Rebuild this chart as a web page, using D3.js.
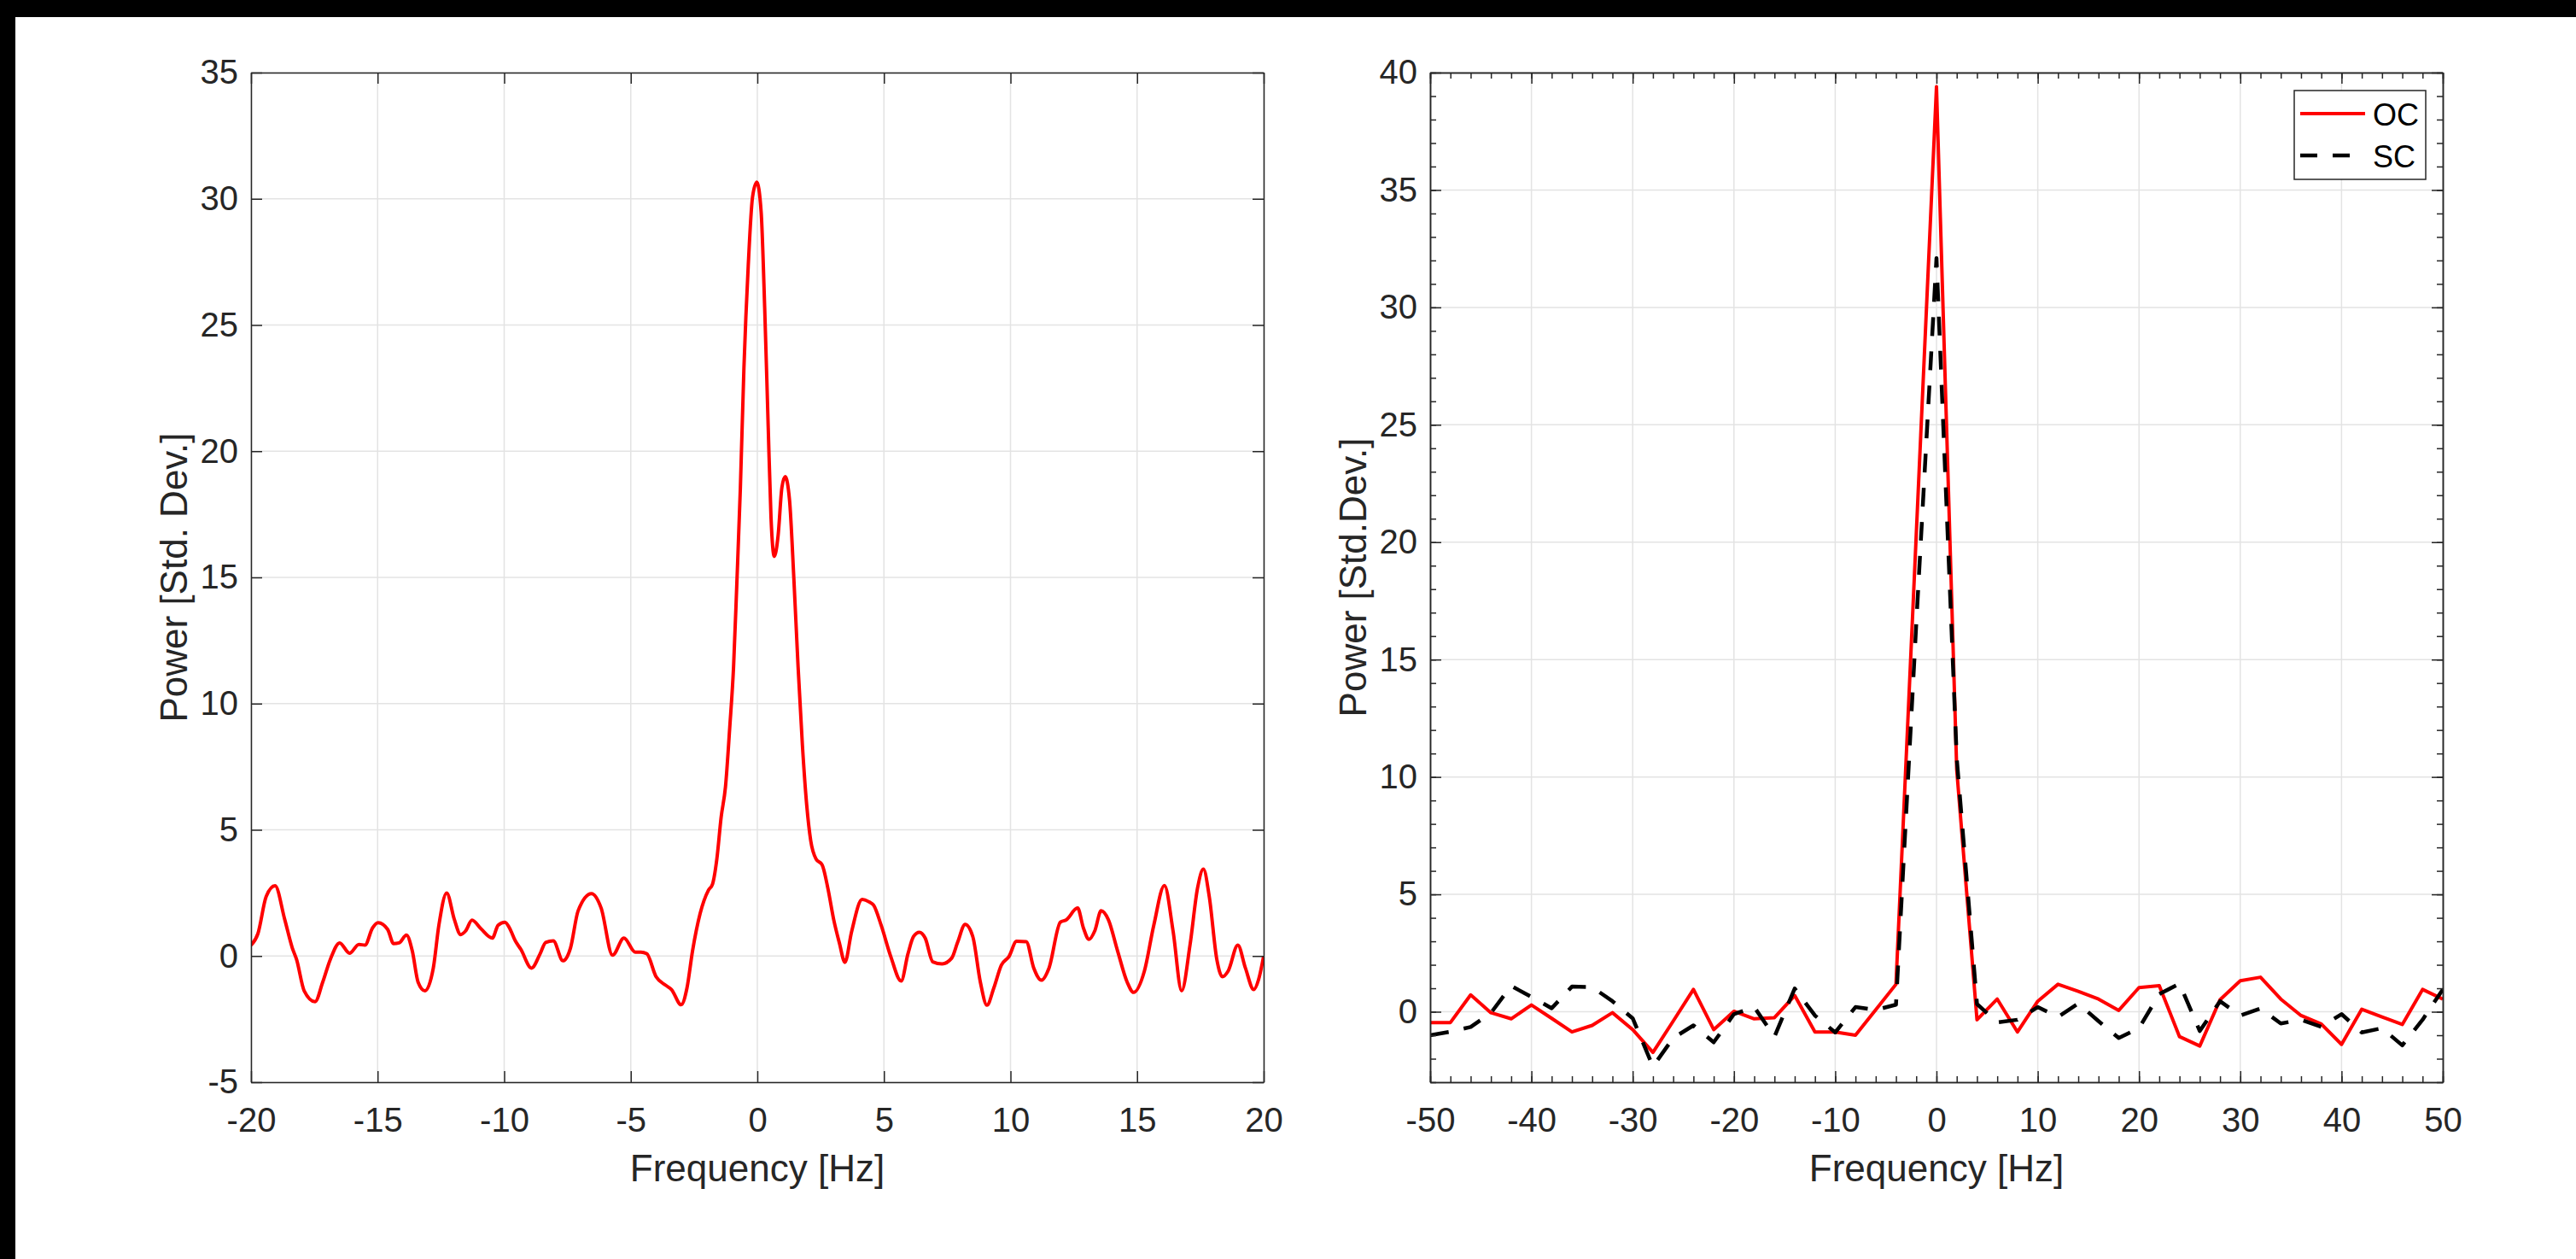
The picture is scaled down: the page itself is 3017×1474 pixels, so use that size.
<!DOCTYPE html>
<html>
<head>
<meta charset="utf-8">
<title>Power spectra</title>
<script src="https://cdn.jsdelivr.net/npm/d3@7"></script>
<style>
body { margin: 0; background: #fff; }
svg { display: block; font-family: "Liberation Sans", Arial, Helvetica, sans-serif; }
</style>
</head>
<body>
<svg id="chart"></svg>
<script>

// ---- data ----
// left panel: one smooth spectrum, -20..20 Hz
var leftFreq = [-20, -19.73, -19.4, -19.05, -18.67, -18.37, -18.2, -17.9, -17.47, -17.17,
    -16.87, -16.5, -16.11, -15.74, -15.5, -15.2, -14.98, -14.6, -14.37, -14.15,
    -13.86, -13.63, -13.4, -13.13, -12.8, -12.58, -12.27, -11.97, -11.72, -11.52,
    -11.27, -10.92, -10.47, -10.24, -9.97, -9.79, -9.56, -9.34, -8.92, -8.58,
    -8.36, -8.06, -7.68, -7.38, -7.08, -6.55, -6.17, -5.72, -5.27, -4.82,
    -4.6, -4.37, -4.0, -3.62, -3.39, -3.01, -2.78, -2.56, -2.26, -1.93,
    -1.77, -1.6, -1.43, -1.26, -1.09, -0.94, -0.81, -0.67, -0.53, -0.36,
    -0.19, -0.02, 0.15, 0.29, 0.43, 0.54, 0.67, 0.82, 0.97, 1.1,
    1.27, 1.44, 1.61, 1.78, 1.95, 2.11, 2.32, 2.56, 2.79, 3.01,
    3.24, 3.46, 3.72, 4.14, 4.44, 4.59, 4.89, 5.27, 5.68, 5.95,
    6.17, 6.4, 6.63, 6.93, 7.3, 7.68, 7.91, 8.21, 8.51, 8.81,
    9.07, 9.34, 9.64, 9.94, 10.24, 10.62, 10.92, 11.22, 11.52, 11.97,
    12.2, 12.65, 12.88, 13.1, 13.33, 13.58, 13.86, 14.23, 14.61, 14.86,
    15.29, 15.66, 16.08, 16.42, 16.76, 17.09, 17.39, 17.62, 17.85, 18.15,
    18.37, 18.6, 18.98, 19.28, 19.61, 19.8, 20];
var leftPower = [0.43, 0.88, 2.36, 2.78, 1.45, 0.32, -0.14, -1.38, -1.81, -1.04,
    -0.14, 0.52, 0.11, 0.46, 0.43, 1.11, 1.32, 1.05, 0.49, 0.52,
    0.83, 0.2, -1.04, -1.38, -0.48, 1.22, 2.5, 1.45, 0.85, 1.0,
    1.42, 1.08, 0.71, 1.22, 1.34, 1.11, 0.6, 0.26, -0.48, 0.09,
    0.54, 0.6, -0.19, 0.32, 1.79, 2.47, 1.9, 0.03, 0.71, 0.15,
    0.15, 0.09, -0.82, -1.16, -1.33, -1.93, -1.27, 0.2, 1.68, 2.61,
    2.85, 3.84, 5.5, 6.69, 9.06, 11.44, 14.76, 18.56, 23.3, 27.34,
    30.07, 30.66, 29.48, 25.68, 20.93, 17.37, 15.83, 16.66, 18.56, 18.99,
    18.08, 15.0, 11.44, 8.35, 5.98, 4.56, 3.84, 3.61, 2.66, 1.47,
    0.52, -0.25, 0.95, 2.24, 2.13, 2.02, 1.22, -0.02, -0.99, 0.09,
    0.77, 0.94, 0.71, -0.23, -0.31, -0.08, 0.54, 1.25, 0.77, -1.04,
    -1.95, -1.27, -0.36, -0.02, 0.58, 0.57, -0.48, -0.96, -0.48, 1.34,
    1.43, 1.9, 1.11, 0.66, 1.0, 1.79, 1.45, 0.2, -1.04, -1.44,
    -0.59, 1.22, 2.79, 1.0, -1.38, 0.43, 2.7, 3.44, 2.36, -0.14,
    -0.82, -0.59, 0.43, -0.48, -1.33, -0.93, 0.0];

// right panel: two spectra sampled every 2 Hz, -50..50 Hz
var rightFreq = d3.range(-50, 51, 2);
var ocPower = [-0.46, -0.46, 0.72, -0.04, -0.3, 0.29, -0.28, -0.86, -0.58, -0.04,
    -0.76, -1.73, -0.4, 0.95, -0.76, 0.02, -0.3, -0.25, 0.69, -0.86,
    -0.86, -1.0, 0.08, 1.17, 20.3, 39.4, 10.3, -0.34, 0.54, -0.86,
    0.45, 1.17, 0.87, 0.54, 0.06, 1.03, 1.11, -1.06, -1.46, 0.51,
    1.32, 1.47, 0.54, -0.16, -0.52, -1.39, 0.11, -0.22, -0.54, 0.95,
    0.54];
var scPower = [-1.0, -0.85, -0.65, -0.05, 1.1, 0.63, 0.15, 1.07, 1.05, 0.45,
    -0.28, -2.33, -1.12, -0.58, -1.3, -0.1, 0.2, -1.06, 0.99, -0.16,
    -0.88, 0.2, 0.08, 0.3, 16.5, 32.1, 10.8, 0.33, -0.45, -0.34,
    0.2, -0.22, 0.35, -0.4, -1.12, -0.7, 0.75, 1.2, -0.82, 0.45,
    -0.16, 0.14, -0.5, -0.34, -0.64, -0.1, -0.88, -0.7, -1.43, -0.34,
    0.95];

var leftXTicks = d3.range(-20, 21, 5);
var leftYTicks = d3.range(-5, 36, 5);
var rightXTicks = d3.range(-50, 51, 10);
var rightYTicks = d3.range(0, 41, 5);
var rightXMinor = d3.range(-50, 51, 2);
var rightYMinor = d3.range(-3, 41, 1);

// ---- page ----
var W = 3017, H = 1474;
var axisColor = "#262626";
var gridColor = "#e3e3e3";

var svg = d3.select("#chart").attr("width", W).attr("height", H);
svg.append("rect").attr("width", W).attr("height", H).attr("fill", "#fff");
// black strips along the top and left edge of the original picture
svg.append("rect").attr("x", 0).attr("y", 0).attr("width", W).attr("height", 20).attr("fill", "#000");
svg.append("rect").attr("x", 0).attr("y", 0).attr("width", 18).attr("height", H).attr("fill", "#000");

function fmt(d) { return String(d); }   // plain hyphen, like MATLAB

function drawPanel(p) {
    var x = d3.scaleLinear().domain(p.xDomain).range([p.left, p.right]);
    var y = d3.scaleLinear().domain(p.yDomain).range([p.bottom, p.top]);
    var g = svg.append("g");
    var id = "clip" + p.name;

    g.append("clipPath").attr("id", id)
        .append("rect")
        .attr("x", p.left).attr("y", p.top)
        .attr("width", p.right - p.left).attr("height", p.bottom - p.top);

    // grid
    g.append("g").selectAll("line").data(p.xTicks).enter().append("line")
        .attr("x1", x).attr("x2", x).attr("y1", p.top).attr("y2", p.bottom)
        .attr("stroke", gridColor).attr("stroke-width", 1.5);
    g.append("g").selectAll("line").data(p.yTicks).enter().append("line")
        .attr("y1", y).attr("y2", y).attr("x1", p.left).attr("x2", p.right)
        .attr("stroke", gridColor).attr("stroke-width", 1.5);

    // data lines
    var plot = g.append("g").attr("clip-path", "url(#" + id + ")");
    p.series.forEach(function (s) {
        var line = d3.line()
            .x(function (d) { return x(d[0]); })
            .y(function (d) { return y(d[1]); })
            .curve(s.curve || d3.curveLinear);
        plot.append("path")
            .datum(d3.zip(s.x, s.y))
            .attr("d", line)
            .attr("fill", "none")
            .attr("stroke", s.color)
            .attr("stroke-width", s.width)
            .attr("stroke-dasharray", s.dash || null)
            .attr("stroke-linejoin", "round");
    });

    // axes (ticks pointing in, on all four sides)
    var bottom = d3.axisBottom(x).tickValues(p.xTicks).tickSize(-13).tickSizeOuter(0)
        .tickPadding(30).tickFormat(fmt);
    var leftAx = d3.axisLeft(y).tickValues(p.yTicks).tickSize(-13).tickSizeOuter(0)
        .tickPadding(15).tickFormat(fmt);
    var topAx = d3.axisTop(x).tickValues(p.xTicks).tickSize(-13).tickSizeOuter(0).tickFormat("");
    var rightAx = d3.axisRight(y).tickValues(p.yTicks).tickSize(-13).tickSizeOuter(0).tickFormat("");

    var axes = [
        [bottom, "translate(0," + p.bottom + ")"],
        [leftAx, "translate(" + p.left + ",0)"],
        [topAx, "translate(0," + p.top + ")"],
        [rightAx, "translate(" + p.right + ",0)"]
    ];
    if (p.xMinor) {
        axes.push([d3.axisBottom(x).tickValues(p.xMinor).tickSize(-7).tickSizeOuter(0).tickFormat(""), "translate(0," + p.bottom + ")"]);
        axes.push([d3.axisTop(x).tickValues(p.xMinor).tickSize(-7).tickSizeOuter(0).tickFormat(""), "translate(0," + p.top + ")"]);
        axes.push([d3.axisLeft(y).tickValues(p.yMinor).tickSize(-7).tickSizeOuter(0).tickFormat(""), "translate(" + p.left + ",0)"]);
        axes.push([d3.axisRight(y).tickValues(p.yMinor).tickSize(-7).tickSizeOuter(0).tickFormat(""), "translate(" + p.right + ",0)"]);
    }
    axes.forEach(function (a) {
        var ag = g.append("g").attr("transform", a[1]).call(a[0]);
        ag.select(".domain").attr("stroke", axisColor).attr("stroke-width", 1.5);
        ag.selectAll(".tick line").attr("stroke", axisColor).attr("stroke-width", 1.5);
        ag.selectAll(".tick text").attr("fill", axisColor)
            .style("font-size", "40px")
            .style("font-family", '"Liberation Sans", Arial, sans-serif');
    });

    // axis titles
    g.append("text")
        .attr("x", (p.left + p.right) / 2).attr("y", p.bottom + 116)
        .attr("text-anchor", "middle").attr("fill", axisColor)
        .style("font-size", "44px")
        .text("Frequency [Hz]");
    g.append("text")
        .attr("transform", "translate(" + (p.left - 75) + "," + ((p.top + p.bottom) / 2) + ") rotate(-90)")
        .attr("text-anchor", "middle").attr("fill", axisColor)
        .style("font-size", "44px")
        .text(p.yLabel);

    return { x: x, y: y, g: g };
}

drawPanel({
    name: "L", left: 294, right: 1480, top: 85, bottom: 1267,
    xDomain: [-20, 20], yDomain: [-5, 35],
    xTicks: leftXTicks, yTicks: leftYTicks,
    yLabel: "Power [Std. Dev.]",
    series: [{ x: leftFreq, y: leftPower, color: "#ff0000", width: 4, curve: d3.curveMonotoneX }]
});

var rp = drawPanel({
    name: "R", left: 1675, right: 2861, top: 85, bottom: 1267,
    xDomain: [-50, 50], yDomain: [-3, 40],
    xTicks: rightXTicks, yTicks: rightYTicks,
    xMinor: rightXMinor, yMinor: rightYMinor,
    yLabel: "Power [Std.Dev.]",
    series: [
        { x: rightFreq, y: ocPower, color: "#ff0000", width: 4 },
        { x: rightFreq, y: scPower, color: "#000000", width: 4.5, dash: "22,18" }
    ]
});

// legend
var leg = svg.append("g");
leg.append("rect").attr("x", 2687).attr("y", 106).attr("width", 154).attr("height", 104)
    .attr("fill", "#fff").attr("stroke", axisColor).attr("stroke-width", 1.5);
var legendItems = [
    { label: "OC", color: "#ff0000", dash: null, width: 4 },
    { label: "SC", color: "#000000", dash: "20,18", width: 4.5 }
];
legendItems.forEach(function (it, i) {
    var cy = 133 + i * 49;
    leg.append("line").attr("x1", 2694).attr("x2", 2770).attr("y1", cy).attr("y2", cy)
        .attr("stroke", it.color).attr("stroke-width", it.width)
        .attr("stroke-dasharray", it.dash);
    leg.append("text").attr("x", 2779).attr("y", cy + 14)
        .attr("fill", "#000").style("font-size", "36px").text(it.label);
});

</script>
</body>
</html>
